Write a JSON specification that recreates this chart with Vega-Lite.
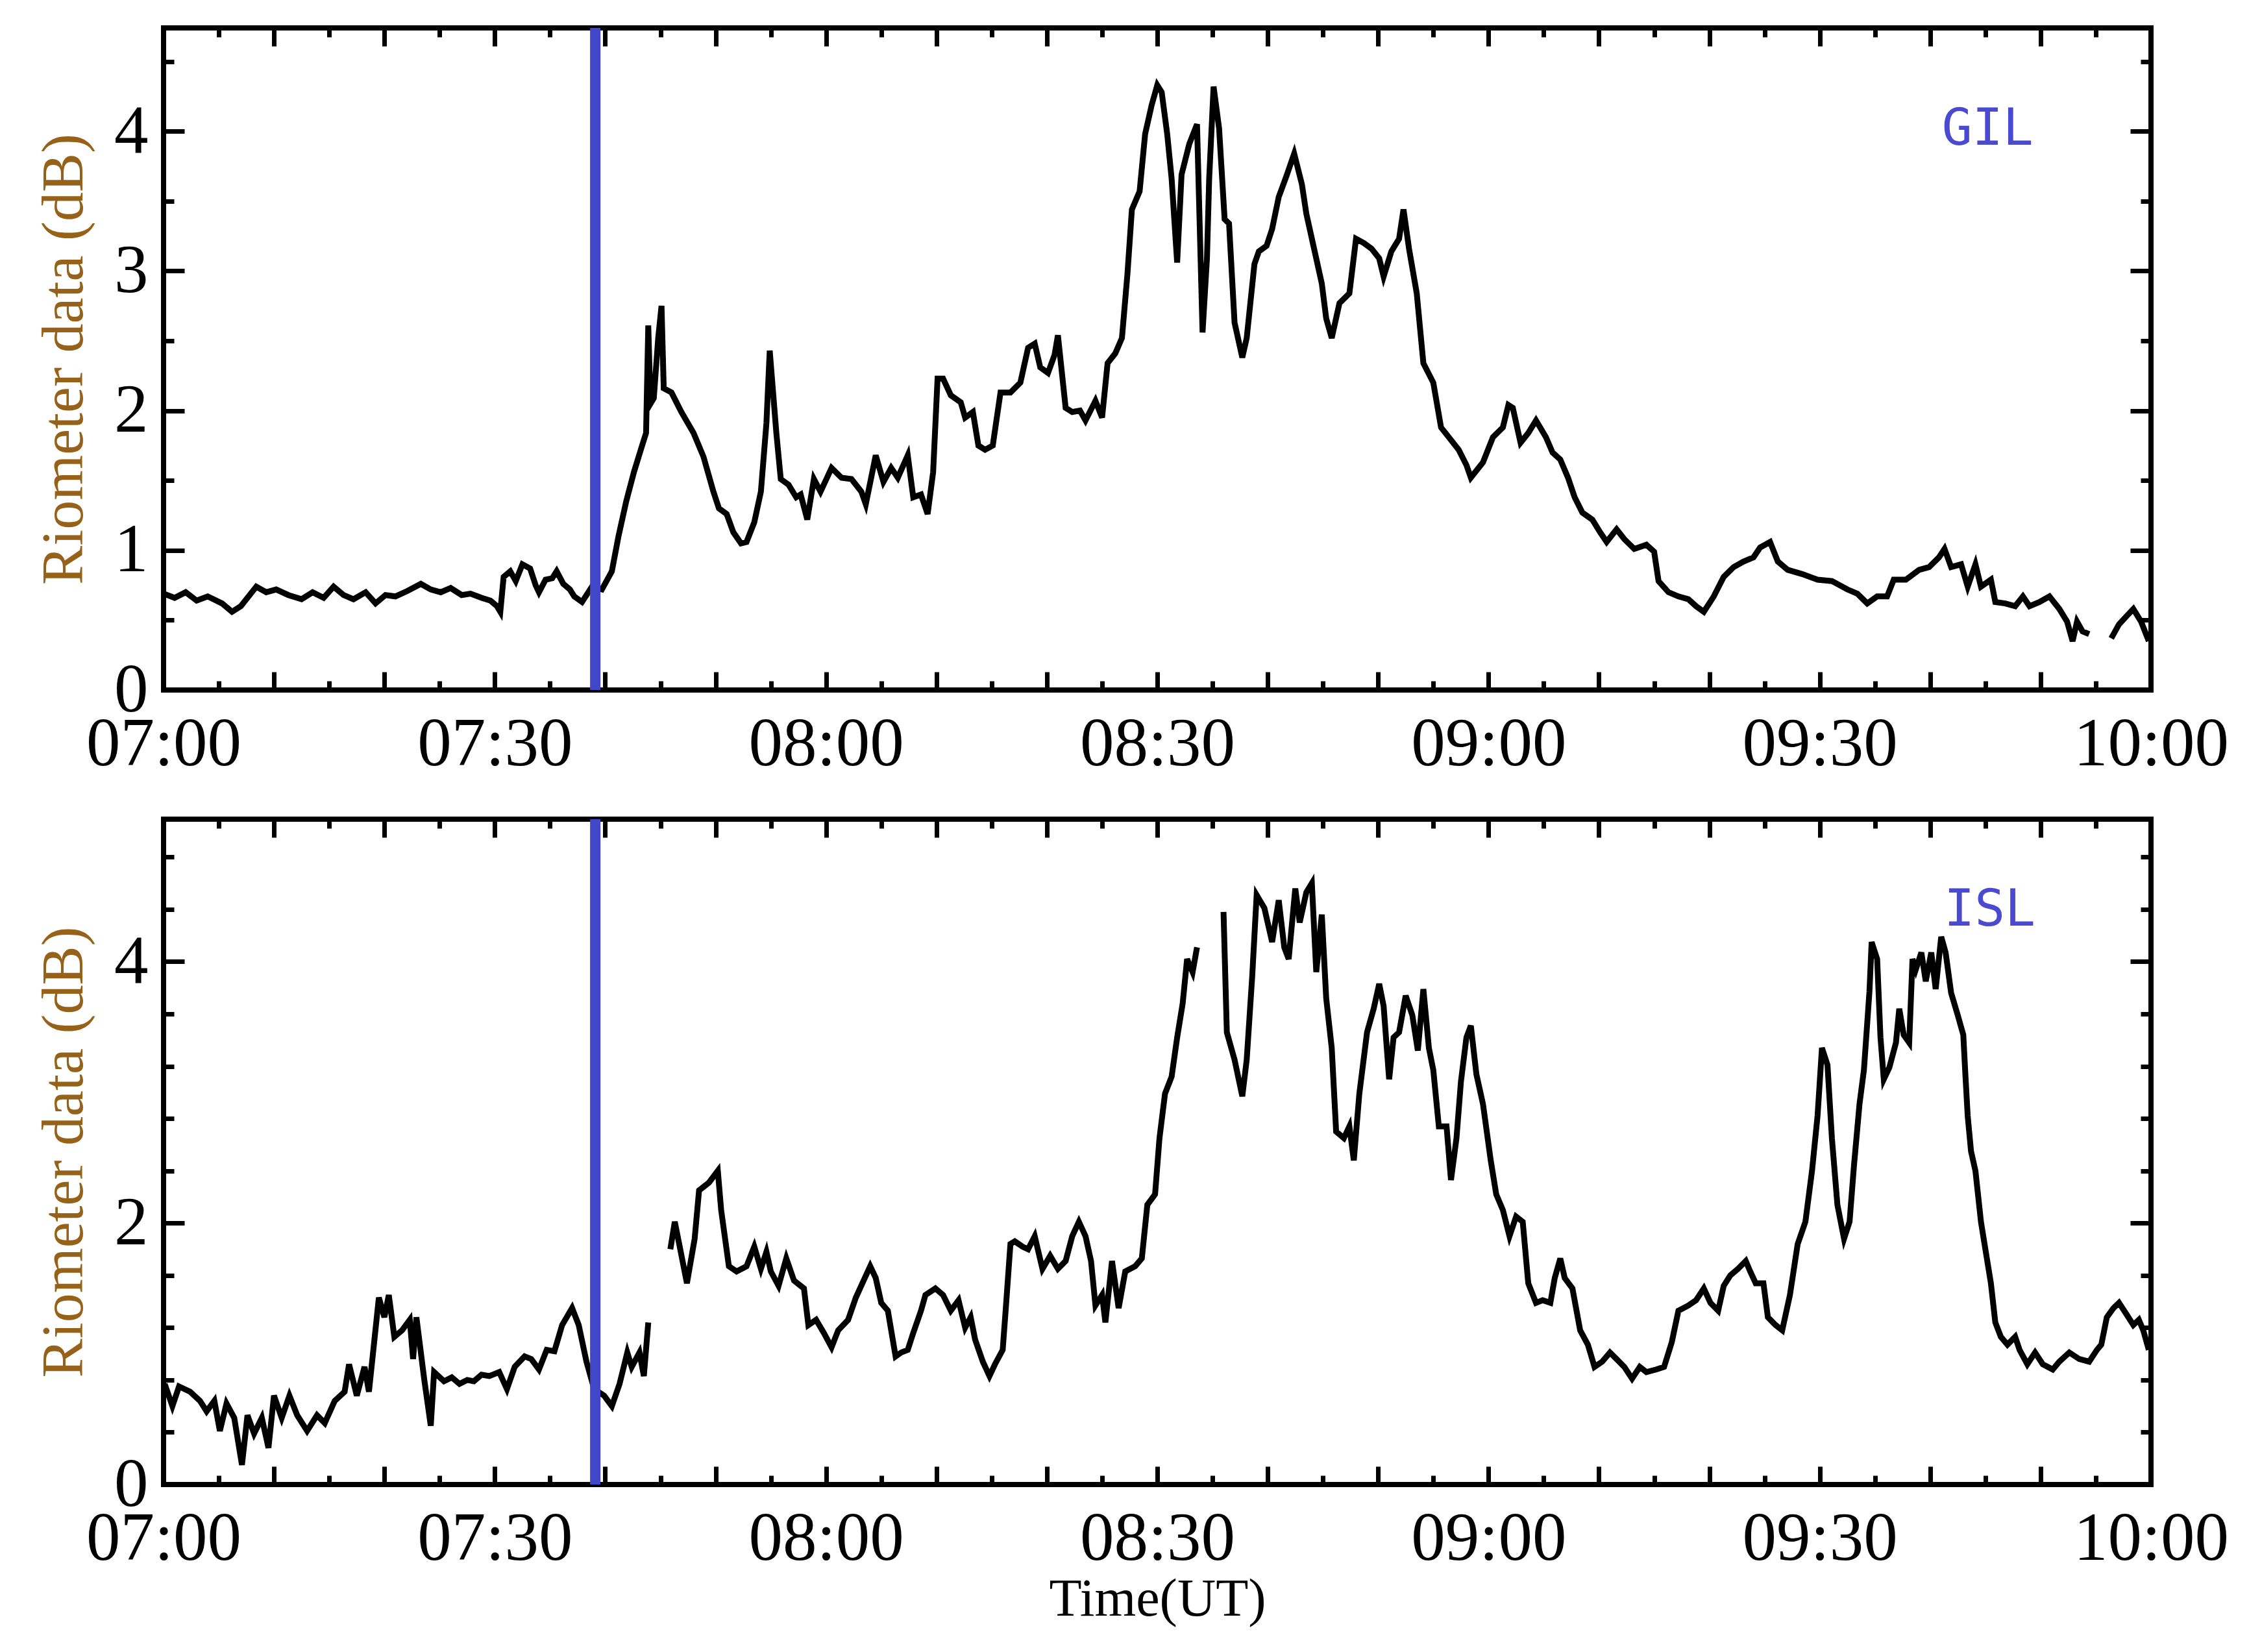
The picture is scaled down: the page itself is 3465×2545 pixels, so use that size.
{
  "$schema": "https://vega.github.io/schema/vega-lite/v6.json",
  "background": "white",
  "padding": {"left": 50, "top": 31, "right": 20, "bottom": 10},
  "spacing": 33,
  "config": {
    "view": {"stroke": "black", "strokeWidth": 8},
    "axis": {
      "domain": false, "grid": false, "tickColor": "black", "tickWidth": 7,
      "labelFont": "Liberation Serif", "labelFontSize": 105, "labelColor": "black", "labelLimit": 0,
      "labelFlush": false, "labelOverlap": false, "labelBound": false,
      "titleFont": "Liberation Serif", "titleFontWeight": "normal", "titleColor": "black"
    }
  },
  "datasets": {
    "gil": [
      {"m":0,"v":0.69,"seg":1},{"m":1,"v":0.66,"seg":1},{"m":2,"v":0.70,"seg":1},{"m":3,"v":0.64,"seg":1},{"m":4,"v":0.67,"seg":1},{"m":5.3,"v":0.62,"seg":1},{"m":6.2,"v":0.56,"seg":1},{"m":7,"v":0.60,"seg":1},{"m":8.4,"v":0.74,"seg":1},{"m":9.3,"v":0.70,"seg":1},{"m":10.2,"v":0.72,"seg":1},{"m":11.3,"v":0.68,"seg":1},{"m":12.5,"v":0.65,"seg":1},{"m":13.5,"v":0.70,"seg":1},{"m":14.5,"v":0.66,"seg":1},{"m":15.4,"v":0.74,"seg":1},{"m":16.3,"v":0.68,"seg":1},{"m":17.2,"v":0.65,"seg":1},{"m":18.3,"v":0.70,"seg":1},{"m":19.2,"v":0.62,"seg":1},{"m":20.1,"v":0.68,"seg":1},{"m":21,"v":0.67,"seg":1},{"m":22.1,"v":0.71,"seg":1},{"m":23.3,"v":0.76,"seg":1},{"m":24.2,"v":0.72,"seg":1},{"m":25.1,"v":0.70,"seg":1},{"m":26,"v":0.73,"seg":1},{"m":27,"v":0.68,"seg":1},{"m":27.8,"v":0.69,"seg":1},{"m":28.8,"v":0.66,"seg":1},{"m":29.6,"v":0.64,"seg":1},{"m":30.2,"v":0.60,"seg":1},{"m":30.5,"v":0.56,"seg":1},{"m":30.8,"v":0.81,"seg":1},{"m":31.4,"v":0.85,"seg":1},{"m":31.9,"v":0.78,"seg":1},{"m":32.5,"v":0.90,"seg":1},{"m":33.2,"v":0.87,"seg":1},{"m":33.7,"v":0.75,"seg":1},{"m":34,"v":0.70,"seg":1},{"m":34.6,"v":0.79,"seg":1},{"m":35.2,"v":0.80,"seg":1},{"m":35.6,"v":0.85,"seg":1},{"m":36.2,"v":0.76,"seg":1},{"m":36.8,"v":0.72,"seg":1},{"m":37.2,"v":0.67,"seg":1},{"m":37.9,"v":0.63,"seg":1},{"m":38.8,"v":0.74,"seg":1},{"m":39.7,"v":0.72,"seg":1},{"m":40.6,"v":0.85,"seg":1},{"m":41.2,"v":1.10,"seg":1},{"m":41.9,"v":1.35,"seg":1},{"m":42.6,"v":1.56,"seg":1},{"m":43.3,"v":1.74,"seg":1},{"m":43.7,"v":1.84,"seg":1},{"m":43.9,"v":2.61,"seg":1},{"m":44.1,"v":2.05,"seg":1},{"m":44.4,"v":2.09,"seg":1},{"m":44.8,"v":2.52,"seg":1},{"m":45.1,"v":2.75,"seg":1},{"m":45.3,"v":2.16,"seg":1},{"m":46,"v":2.13,"seg":1},{"m":46.9,"v":1.99,"seg":1},{"m":48,"v":1.84,"seg":1},{"m":48.9,"v":1.67,"seg":1},{"m":49.8,"v":1.42,"seg":1},{"m":50.3,"v":1.30,"seg":1},{"m":51,"v":1.26,"seg":1},{"m":51.6,"v":1.13,"seg":1},{"m":52.3,"v":1.05,"seg":1},{"m":52.8,"v":1.06,"seg":1},{"m":53.5,"v":1.20,"seg":1},{"m":54.1,"v":1.42,"seg":1},{"m":54.6,"v":1.91,"seg":1},{"m":54.9,"v":2.43,"seg":1},{"m":55.5,"v":1.84,"seg":1},{"m":55.9,"v":1.51,"seg":1},{"m":56.6,"v":1.47,"seg":1},{"m":57.3,"v":1.38,"seg":1},{"m":57.7,"v":1.40,"seg":1},{"m":58.3,"v":1.22,"seg":1},{"m":58.9,"v":1.51,"seg":1},{"m":59.5,"v":1.42,"seg":1},{"m":60.5,"v":1.59,"seg":1},{"m":61.4,"v":1.52,"seg":1},{"m":62.3,"v":1.51,"seg":1},{"m":63.2,"v":1.42,"seg":1},{"m":63.6,"v":1.33,"seg":1},{"m":64.5,"v":1.68,"seg":1},{"m":65.2,"v":1.49,"seg":1},{"m":65.9,"v":1.59,"seg":1},{"m":66.5,"v":1.52,"seg":1},{"m":67.4,"v":1.68,"seg":1},{"m":67.9,"v":1.38,"seg":1},{"m":68.6,"v":1.40,"seg":1},{"m":69.2,"v":1.26,"seg":1},{"m":69.7,"v":1.56,"seg":1},{"m":70.1,"v":2.23,"seg":1},{"m":70.6,"v":2.23,"seg":1},{"m":71.3,"v":2.11,"seg":1},{"m":72.2,"v":2.06,"seg":1},{"m":72.6,"v":1.95,"seg":1},{"m":73.3,"v":1.99,"seg":1},{"m":73.8,"v":1.75,"seg":1},{"m":74.4,"v":1.72,"seg":1},{"m":75.1,"v":1.75,"seg":1},{"m":75.8,"v":2.13,"seg":1},{"m":76.7,"v":2.13,"seg":1},{"m":77.6,"v":2.20,"seg":1},{"m":78.3,"v":2.45,"seg":1},{"m":78.9,"v":2.48,"seg":1},{"m":79.4,"v":2.31,"seg":1},{"m":80.1,"v":2.27,"seg":1},{"m":80.7,"v":2.40,"seg":1},{"m":81,"v":2.54,"seg":1},{"m":81.7,"v":2.02,"seg":1},{"m":82.3,"v":1.99,"seg":1},{"m":83,"v":2.00,"seg":1},{"m":83.5,"v":1.93,"seg":1},{"m":84.4,"v":2.07,"seg":1},{"m":85,"v":1.95,"seg":1},{"m":85.5,"v":2.34,"seg":1},{"m":86.2,"v":2.41,"seg":1},{"m":86.8,"v":2.52,"seg":1},{"m":87.3,"v":2.98,"seg":1},{"m":87.7,"v":3.44,"seg":1},{"m":88.4,"v":3.57,"seg":1},{"m":88.9,"v":3.98,"seg":1},{"m":89.5,"v":4.19,"seg":1},{"m":90,"v":4.33,"seg":1},{"m":90.4,"v":4.28,"seg":1},{"m":90.9,"v":3.98,"seg":1},{"m":91.3,"v":3.66,"seg":1},{"m":91.8,"v":3.06,"seg":1},{"m":92.2,"v":3.69,"seg":1},{"m":92.9,"v":3.91,"seg":1},{"m":93.6,"v":4.05,"seg":1},{"m":94.1,"v":2.56,"seg":1},{"m":94.5,"v":3.09,"seg":1},{"m":94.7,"v":3.66,"seg":1},{"m":95.1,"v":4.32,"seg":1},{"m":95.6,"v":4.02,"seg":1},{"m":96.1,"v":3.37,"seg":1},{"m":96.5,"v":3.34,"seg":1},{"m":97,"v":2.63,"seg":1},{"m":97.7,"v":2.38,"seg":1},{"m":98.1,"v":2.52,"seg":1},{"m":98.8,"v":3.05,"seg":1},{"m":99.2,"v":3.14,"seg":1},{"m":99.9,"v":3.18,"seg":1},{"m":100.4,"v":3.30,"seg":1},{"m":101,"v":3.53,"seg":1},{"m":101.7,"v":3.68,"seg":1},{"m":102.4,"v":3.84,"seg":1},{"m":103.1,"v":3.62,"seg":1},{"m":103.5,"v":3.41,"seg":1},{"m":104.2,"v":3.16,"seg":1},{"m":104.9,"v":2.91,"seg":1},{"m":105.3,"v":2.66,"seg":1},{"m":105.8,"v":2.52,"seg":1},{"m":106.5,"v":2.77,"seg":1},{"m":107.4,"v":2.84,"seg":1},{"m":108,"v":3.23,"seg":1},{"m":108.7,"v":3.20,"seg":1},{"m":109.4,"v":3.16,"seg":1},{"m":110.1,"v":3.09,"seg":1},{"m":110.5,"v":2.96,"seg":1},{"m":111.2,"v":3.14,"seg":1},{"m":111.9,"v":3.23,"seg":1},{"m":112.3,"v":3.44,"seg":1},{"m":112.8,"v":3.16,"seg":1},{"m":113.5,"v":2.84,"seg":1},{"m":114.1,"v":2.34,"seg":1},{"m":115,"v":2.20,"seg":1},{"m":115.7,"v":1.88,"seg":1},{"m":116.4,"v":1.81,"seg":1},{"m":117.3,"v":1.72,"seg":1},{"m":118,"v":1.61,"seg":1},{"m":118.4,"v":1.52,"seg":1},{"m":119.5,"v":1.63,"seg":1},{"m":120.4,"v":1.81,"seg":1},{"m":121.3,"v":1.88,"seg":1},{"m":121.8,"v":2.04,"seg":1},{"m":122.2,"v":2.02,"seg":1},{"m":122.9,"v":1.77,"seg":1},{"m":123.6,"v":1.84,"seg":1},{"m":124.3,"v":1.93,"seg":1},{"m":125.2,"v":1.81,"seg":1},{"m":125.8,"v":1.70,"seg":1},{"m":126.5,"v":1.65,"seg":1},{"m":127.2,"v":1.52,"seg":1},{"m":127.8,"v":1.38,"seg":1},{"m":128.5,"v":1.27,"seg":1},{"m":129.4,"v":1.22,"seg":1},{"m":130.1,"v":1.13,"seg":1},{"m":130.7,"v":1.06,"seg":1},{"m":131.6,"v":1.15,"seg":1},{"m":132.3,"v":1.08,"seg":1},{"m":133.2,"v":1.01,"seg":1},{"m":134.3,"v":1.04,"seg":1},{"m":135,"v":0.99,"seg":1},{"m":135.4,"v":0.78,"seg":1},{"m":136.3,"v":0.70,"seg":1},{"m":137.2,"v":0.67,"seg":1},{"m":138.1,"v":0.65,"seg":1},{"m":138.8,"v":0.60,"seg":1},{"m":139.5,"v":0.56,"seg":1},{"m":140.4,"v":0.67,"seg":1},{"m":141.3,"v":0.81,"seg":1},{"m":142.2,"v":0.88,"seg":1},{"m":143.1,"v":0.92,"seg":1},{"m":144,"v":0.95,"seg":1},{"m":144.6,"v":1.02,"seg":1},{"m":145.5,"v":1.06,"seg":1},{"m":146.2,"v":0.92,"seg":1},{"m":147.1,"v":0.86,"seg":1},{"m":148.4,"v":0.83,"seg":1},{"m":149.8,"v":0.79,"seg":1},{"m":151.1,"v":0.78,"seg":1},{"m":152.5,"v":0.72,"seg":1},{"m":153.4,"v":0.69,"seg":1},{"m":154.3,"v":0.62,"seg":1},{"m":155.2,"v":0.67,"seg":1},{"m":156.1,"v":0.67,"seg":1},{"m":156.7,"v":0.79,"seg":1},{"m":157.8,"v":0.79,"seg":1},{"m":159,"v":0.86,"seg":1},{"m":159.9,"v":0.88,"seg":1},{"m":160.8,"v":0.95,"seg":1},{"m":161.3,"v":1.01,"seg":1},{"m":161.9,"v":0.88,"seg":1},{"m":162.8,"v":0.90,"seg":1},{"m":163.4,"v":0.74,"seg":1},{"m":164.1,"v":0.90,"seg":1},{"m":164.6,"v":0.74,"seg":1},{"m":165.5,"v":0.79,"seg":1},{"m":165.9,"v":0.63,"seg":1},{"m":166.8,"v":0.62,"seg":1},{"m":167.7,"v":0.60,"seg":1},{"m":168.4,"v":0.67,"seg":1},{"m":169,"v":0.60,"seg":1},{"m":169.9,"v":0.63,"seg":1},{"m":170.8,"v":0.67,"seg":1},{"m":171.7,"v":0.58,"seg":1},{"m":172.4,"v":0.49,"seg":1},{"m":172.9,"v":0.35,"seg":1},{"m":173.3,"v":0.49,"seg":1},{"m":173.8,"v":0.42,"seg":1},{"m":174.4,"v":0.40,"seg":1},
      {"m":176.4,"v":0.37,"seg":2},{"m":177.1,"v":0.47,"seg":2},{"m":177.8,"v":0.53,"seg":2},{"m":178.4,"v":0.58,"seg":2},{"m":179.1,"v":0.49,"seg":2},{"m":179.8,"v":0.35,"seg":2}
    ],
    "isl": [
      {"m":0.1,"v":0.77,"seg":1},{"m":0.8,"v":0.60,"seg":1},{"m":1.4,"v":0.75,"seg":1},{"m":2.4,"v":0.71,"seg":1},{"m":3.3,"v":0.64,"seg":1},{"m":3.9,"v":0.56,"seg":1},{"m":4.6,"v":0.64,"seg":1},{"m":5.1,"v":0.41,"seg":1},{"m":5.7,"v":0.62,"seg":1},{"m":6.4,"v":0.51,"seg":1},{"m":7.1,"v":0.15,"seg":1},{"m":7.6,"v":0.53,"seg":1},{"m":8.2,"v":0.39,"seg":1},{"m":8.9,"v":0.51,"seg":1},{"m":9.5,"v":0.28,"seg":1},{"m":10,"v":0.68,"seg":1},{"m":10.7,"v":0.51,"seg":1},{"m":11.4,"v":0.68,"seg":1},{"m":12.1,"v":0.53,"seg":1},{"m":13,"v":0.41,"seg":1},{"m":13.9,"v":0.53,"seg":1},{"m":14.6,"v":0.47,"seg":1},{"m":15.5,"v":0.64,"seg":1},{"m":16.4,"v":0.71,"seg":1},{"m":16.8,"v":0.92,"seg":1},{"m":17.5,"v":0.68,"seg":1},{"m":18.2,"v":0.90,"seg":1},{"m":18.6,"v":0.71,"seg":1},{"m":19.1,"v":1.11,"seg":1},{"m":19.5,"v":1.43,"seg":1},{"m":20,"v":1.28,"seg":1},{"m":20.4,"v":1.45,"seg":1},{"m":20.9,"v":1.13,"seg":1},{"m":21.6,"v":1.18,"seg":1},{"m":22.3,"v":1.26,"seg":1},{"m":22.6,"v":0.96,"seg":1},{"m":22.9,"v":1.28,"seg":1},{"m":23.6,"v":0.81,"seg":1},{"m":24.2,"v":0.45,"seg":1},{"m":24.5,"v":0.86,"seg":1},{"m":25.4,"v":0.79,"seg":1},{"m":26.1,"v":0.82,"seg":1},{"m":26.8,"v":0.77,"seg":1},{"m":27.5,"v":0.80,"seg":1},{"m":28.1,"v":0.79,"seg":1},{"m":28.8,"v":0.84,"seg":1},{"m":29.5,"v":0.83,"seg":1},{"m":30.4,"v":0.86,"seg":1},{"m":31.1,"v":0.73,"seg":1},{"m":31.8,"v":0.90,"seg":1},{"m":32.7,"v":0.98,"seg":1},{"m":33.3,"v":0.96,"seg":1},{"m":34,"v":0.88,"seg":1},{"m":34.7,"v":1.03,"seg":1},{"m":35.4,"v":1.02,"seg":1},{"m":36.1,"v":1.22,"seg":1},{"m":37,"v":1.35,"seg":1},{"m":37.6,"v":1.22,"seg":1},{"m":38.3,"v":0.94,"seg":1},{"m":39,"v":0.73,"seg":1},{"m":39.9,"v":0.68,"seg":1},{"m":40.6,"v":0.60,"seg":1},{"m":41.3,"v":0.77,"seg":1},{"m":42,"v":1.01,"seg":1},{"m":42.4,"v":0.90,"seg":1},{"m":43.1,"v":1.01,"seg":1},{"m":43.5,"v":0.83,"seg":1},{"m":43.9,"v":1.24,"seg":1},
      {"m":45.9,"v":1.80,"seg":2},{"m":46.3,"v":2.01,"seg":2},{"m":46.7,"v":1.84,"seg":2},{"m":47.4,"v":1.54,"seg":2},{"m":48.1,"v":1.88,"seg":2},{"m":48.5,"v":2.25,"seg":2},{"m":49.4,"v":2.31,"seg":2},{"m":50.2,"v":2.40,"seg":2},{"m":50.5,"v":2.10,"seg":2},{"m":51.2,"v":1.67,"seg":2},{"m":51.9,"v":1.63,"seg":2},{"m":52.8,"v":1.67,"seg":2},{"m":53.5,"v":1.82,"seg":2},{"m":54.1,"v":1.65,"seg":2},{"m":54.6,"v":1.78,"seg":2},{"m":55,"v":1.63,"seg":2},{"m":55.7,"v":1.52,"seg":2},{"m":56.4,"v":1.73,"seg":2},{"m":57.1,"v":1.56,"seg":2},{"m":58,"v":1.50,"seg":2},{"m":58.4,"v":1.22,"seg":2},{"m":59.1,"v":1.26,"seg":2},{"m":59.8,"v":1.16,"seg":2},{"m":60.5,"v":1.05,"seg":2},{"m":61.1,"v":1.18,"seg":2},{"m":62,"v":1.26,"seg":2},{"m":62.7,"v":1.43,"seg":2},{"m":63.4,"v":1.56,"seg":2},{"m":64,"v":1.67,"seg":2},{"m":64.5,"v":1.58,"seg":2},{"m":65,"v":1.39,"seg":2},{"m":65.6,"v":1.33,"seg":2},{"m":66.3,"v":0.98,"seg":2},{"m":66.8,"v":1.01,"seg":2},{"m":67.4,"v":1.03,"seg":2},{"m":67.9,"v":1.16,"seg":2},{"m":68.6,"v":1.33,"seg":2},{"m":69,"v":1.45,"seg":2},{"m":69.9,"v":1.50,"seg":2},{"m":70.6,"v":1.45,"seg":2},{"m":71.3,"v":1.33,"seg":2},{"m":72,"v":1.41,"seg":2},{"m":72.6,"v":1.20,"seg":2},{"m":73.1,"v":1.28,"seg":2},{"m":73.5,"v":1.11,"seg":2},{"m":74.2,"v":0.94,"seg":2},{"m":74.8,"v":0.83,"seg":2},{"m":75.3,"v":0.92,"seg":2},{"m":76,"v":1.03,"seg":2},{"m":76.3,"v":1.37,"seg":2},{"m":76.7,"v":1.84,"seg":2},{"m":77.1,"v":1.86,"seg":2},{"m":77.8,"v":1.82,"seg":2},{"m":78.3,"v":1.80,"seg":2},{"m":78.9,"v":1.90,"seg":2},{"m":79.6,"v":1.65,"seg":2},{"m":80.3,"v":1.75,"seg":2},{"m":81,"v":1.65,"seg":2},{"m":81.7,"v":1.71,"seg":2},{"m":82.3,"v":1.90,"seg":2},{"m":82.9,"v":2.01,"seg":2},{"m":83.5,"v":1.90,"seg":2},{"m":84,"v":1.71,"seg":2},{"m":84.4,"v":1.37,"seg":2},{"m":85,"v":1.45,"seg":2},{"m":85.3,"v":1.24,"seg":2},{"m":85.9,"v":1.71,"seg":2},{"m":86.5,"v":1.35,"seg":2},{"m":87.1,"v":1.63,"seg":2},{"m":88,"v":1.67,"seg":2},{"m":88.6,"v":1.73,"seg":2},{"m":89.1,"v":2.14,"seg":2},{"m":89.8,"v":2.22,"seg":2},{"m":90.2,"v":2.65,"seg":2},{"m":90.7,"v":2.99,"seg":2},{"m":91.3,"v":3.12,"seg":2},{"m":91.8,"v":3.42,"seg":2},{"m":92.3,"v":3.68,"seg":2},{"m":92.7,"v":4.02,"seg":2},{"m":93.2,"v":3.92,"seg":2},{"m":93.6,"v":4.11,"seg":2},
      {"m":96,"v":4.38,"seg":3},{"m":96.3,"v":3.46,"seg":3},{"m":97,"v":3.25,"seg":3},{"m":97.7,"v":2.97,"seg":3},{"m":98.1,"v":3.25,"seg":3},{"m":98.6,"v":3.89,"seg":3},{"m":99,"v":4.51,"seg":3},{"m":99.7,"v":4.41,"seg":3},{"m":100.4,"v":4.15,"seg":3},{"m":101,"v":4.47,"seg":3},{"m":101.5,"v":4.11,"seg":3},{"m":101.9,"v":4.02,"seg":3},{"m":102.5,"v":4.56,"seg":3},{"m":102.9,"v":4.30,"seg":3},{"m":103.5,"v":4.53,"seg":3},{"m":104,"v":4.60,"seg":3},{"m":104.4,"v":3.92,"seg":3},{"m":104.9,"v":4.36,"seg":3},{"m":105.3,"v":3.72,"seg":3},{"m":105.8,"v":3.34,"seg":3},{"m":106.2,"v":2.70,"seg":3},{"m":106.9,"v":2.65,"seg":3},{"m":107.4,"v":2.74,"seg":3},{"m":107.8,"v":2.48,"seg":3},{"m":108.3,"v":2.99,"seg":3},{"m":109,"v":3.46,"seg":3},{"m":109.6,"v":3.64,"seg":3},{"m":110.1,"v":3.83,"seg":3},{"m":110.5,"v":3.66,"seg":3},{"m":111,"v":3.10,"seg":3},{"m":111.4,"v":3.42,"seg":3},{"m":111.9,"v":3.46,"seg":3},{"m":112.5,"v":3.74,"seg":3},{"m":113.1,"v":3.59,"seg":3},{"m":113.6,"v":3.32,"seg":3},{"m":114.1,"v":3.79,"seg":3},{"m":114.6,"v":3.34,"seg":3},{"m":115,"v":3.17,"seg":3},{"m":115.5,"v":2.74,"seg":3},{"m":116.2,"v":2.74,"seg":3},{"m":116.6,"v":2.33,"seg":3},{"m":117.1,"v":2.65,"seg":3},{"m":117.5,"v":3.08,"seg":3},{"m":118,"v":3.42,"seg":3},{"m":118.4,"v":3.51,"seg":3},{"m":118.9,"v":3.14,"seg":3},{"m":119.5,"v":2.91,"seg":3},{"m":120.2,"v":2.48,"seg":3},{"m":120.7,"v":2.22,"seg":3},{"m":121.3,"v":2.10,"seg":3},{"m":121.9,"v":1.90,"seg":3},{"m":122.5,"v":2.05,"seg":3},{"m":123.1,"v":2.01,"seg":3},{"m":123.6,"v":1.54,"seg":3},{"m":124.3,"v":1.39,"seg":3},{"m":124.9,"v":1.41,"seg":3},{"m":125.6,"v":1.39,"seg":3},{"m":126,"v":1.58,"seg":3},{"m":126.5,"v":1.73,"seg":3},{"m":126.9,"v":1.58,"seg":3},{"m":127.6,"v":1.50,"seg":3},{"m":128.3,"v":1.18,"seg":3},{"m":129,"v":1.07,"seg":3},{"m":129.6,"v":0.90,"seg":3},{"m":130.3,"v":0.94,"seg":3},{"m":131,"v":1.01,"seg":3},{"m":131.6,"v":0.96,"seg":3},{"m":132.3,"v":0.90,"seg":3},{"m":133,"v":0.81,"seg":3},{"m":133.7,"v":0.90,"seg":3},{"m":134.3,"v":0.86,"seg":3},{"m":135.2,"v":0.88,"seg":3},{"m":135.9,"v":0.90,"seg":3},{"m":136.6,"v":1.09,"seg":3},{"m":137.2,"v":1.33,"seg":3},{"m":138.1,"v":1.37,"seg":3},{"m":138.8,"v":1.41,"seg":3},{"m":139.5,"v":1.50,"seg":3},{"m":140.1,"v":1.39,"seg":3},{"m":140.8,"v":1.33,"seg":3},{"m":141.3,"v":1.52,"seg":3},{"m":141.9,"v":1.60,"seg":3},{"m":142.6,"v":1.65,"seg":3},{"m":143.3,"v":1.71,"seg":3},{"m":143.7,"v":1.63,"seg":3},{"m":144.2,"v":1.54,"seg":3},{"m":144.9,"v":1.54,"seg":3},{"m":145.3,"v":1.28,"seg":3},{"m":146,"v":1.22,"seg":3},{"m":146.6,"v":1.18,"seg":3},{"m":147.3,"v":1.45,"seg":3},{"m":148,"v":1.84,"seg":3},{"m":148.7,"v":2.01,"seg":3},{"m":149.3,"v":2.40,"seg":3},{"m":149.8,"v":2.82,"seg":3},{"m":150.2,"v":3.34,"seg":3},{"m":150.7,"v":3.21,"seg":3},{"m":151.1,"v":2.65,"seg":3},{"m":151.6,"v":2.14,"seg":3},{"m":152.2,"v":1.88,"seg":3},{"m":152.7,"v":2.01,"seg":3},{"m":153.1,"v":2.44,"seg":3},{"m":153.6,"v":2.91,"seg":3},{"m":154,"v":3.17,"seg":3},{"m":154.5,"v":3.77,"seg":3},{"m":154.7,"v":4.15,"seg":3},{"m":155.2,"v":4.02,"seg":3},{"m":155.5,"v":3.42,"seg":3},{"m":155.8,"v":3.10,"seg":3},{"m":156.3,"v":3.19,"seg":3},{"m":156.9,"v":3.38,"seg":3},{"m":157.2,"v":3.64,"seg":3},{"m":157.6,"v":3.44,"seg":3},{"m":158.1,"v":3.38,"seg":3},{"m":158.4,"v":4.02,"seg":3},{"m":158.7,"v":3.94,"seg":3},{"m":159.2,"v":4.07,"seg":3},{"m":159.6,"v":3.85,"seg":3},{"m":160.1,"v":4.07,"seg":3},{"m":160.5,"v":3.79,"seg":3},{"m":161,"v":4.19,"seg":3},{"m":161.4,"v":4.07,"seg":3},{"m":161.9,"v":3.76,"seg":3},{"m":162.5,"v":3.59,"seg":3},{"m":163,"v":3.44,"seg":3},{"m":163.2,"v":3.12,"seg":3},{"m":163.4,"v":2.82,"seg":3},{"m":163.7,"v":2.55,"seg":3},{"m":164.1,"v":2.40,"seg":3},{"m":164.6,"v":2.01,"seg":3},{"m":165,"v":1.80,"seg":3},{"m":165.5,"v":1.54,"seg":3},{"m":165.9,"v":1.24,"seg":3},{"m":166.4,"v":1.13,"seg":3},{"m":167,"v":1.07,"seg":3},{"m":167.7,"v":1.13,"seg":3},{"m":168.1,"v":1.03,"seg":3},{"m":168.8,"v":0.92,"seg":3},{"m":169.5,"v":1.01,"seg":3},{"m":170.2,"v":0.92,"seg":3},{"m":171.1,"v":0.88,"seg":3},{"m":171.7,"v":0.94,"seg":3},{"m":172.6,"v":1.01,"seg":3},{"m":173.5,"v":0.96,"seg":3},{"m":174.4,"v":0.94,"seg":3},{"m":175.1,"v":1.03,"seg":3},{"m":175.5,"v":1.07,"seg":3},{"m":176,"v":1.28,"seg":3},{"m":176.6,"v":1.35,"seg":3},{"m":177.1,"v":1.39,"seg":3},{"m":177.8,"v":1.30,"seg":3},{"m":178.4,"v":1.22,"seg":3},{"m":178.9,"v":1.26,"seg":3},{"m":179.3,"v":1.18,"seg":3},{"m":179.8,"v":1.03,"seg":3}
    ]
  },
  "vconcat": [
    {
      "width": 3062, "height": 1020,
      "layer": [
        {
          "data": {"name": "gil"},
          "mark": {"type": "line", "color": "black", "strokeWidth": 9, "strokeJoin": "miter"},
          "encoding": {
            "x": {"field": "m", "type": "quantitative", "scale": {"domain": [0, 180], "nice": false, "zero": false},
                  "axis": {"orient": "bottom", "values": [0,5,10,15,20,25,30,35,40,45,50,55,60,65,70,75,80,85,90,95,100,105,110,115,120,125,130,135,140,145,150,155,160,165,170,175,180],
                           "labelExpr": "datum.value % 30 === 0 ? timeFormat(datetime(2000,0,1,7,datum.value), '%H:%M') : ''",
                           "tickSize": {"condition": {"test": "datum.value % 10 === 0", "value": -28}, "value": -14},
                           "labelPadding": 60, "title": null}},
            "y": {"field": "v", "type": "quantitative", "scale": {"domain": [0, 4.74], "nice": false},
                  "axis": {"orient": "left", "values": [0,0.5,1,1.5,2,2.5,3,3.5,4,4.5],
                           "labelExpr": "datum.value % 1 === 0 ? format(datum.value, 'd') : ''",
                           "tickSize": {"condition": {"test": "datum.value % 1 === 0", "value": -32}, "value": -16},
                           "labelPadding": 56, "labelBaseline": "middle",
                           "title": "Riometer data (dB)", "titleFontSize": 90, "titleColor": "#96621a", "titlePadding": 30}},
            "detail": {"field": "seg", "type": "nominal"}
          }
        },
        {
          "data": {"values": [{"m": 39.1}]},
          "mark": {"type": "rule", "color": "#4047c8", "strokeWidth": 16},
          "encoding": {"x": {"field": "m", "type": "quantitative", "axis": null}}
        },
        {
          "data": {"values": [{"m": 165.2, "v": 4.01, "label": "GIL"}]},
          "mark": {"type": "text", "font": "DejaVu Sans Mono", "fontSize": 78, "color": "#4a4ad0", "align": "center", "baseline": "middle"},
          "encoding": {
            "x": {"field": "m", "type": "quantitative",
                  "axis": {"orient": "top", "values": [0,5,10,15,20,25,30,35,40,45,50,55,60,65,70,75,80,85,90,95,100,105,110,115,120,125,130,135,140,145,150,155,160,165,170,175,180],
                           "labels": false, "title": null,
                           "tickSize": {"condition": {"test": "datum.value % 10 === 0", "value": -28}, "value": -14}}},
            "y": {"field": "v", "type": "quantitative",
                  "axis": {"orient": "right", "values": [0,0.5,1,1.5,2,2.5,3,3.5,4,4.5],
                           "labels": false, "title": null,
                           "tickSize": {"condition": {"test": "datum.value % 1 === 0", "value": -32}, "value": -16}}},
            "text": {"field": "label"}
          }
        }
      ],
      "resolve": {"axis": {"x": "independent", "y": "independent"}}
    },
    {
      "width": 3062, "height": 1025,
      "layer": [
        {
          "data": {"name": "isl"},
          "mark": {"type": "line", "color": "black", "strokeWidth": 9, "strokeJoin": "miter"},
          "encoding": {
            "x": {"field": "m", "type": "quantitative", "scale": {"domain": [0, 180], "nice": false, "zero": false},
                  "axis": {"orient": "bottom", "values": [0,5,10,15,20,25,30,35,40,45,50,55,60,65,70,75,80,85,90,95,100,105,110,115,120,125,130,135,140,145,150,155,160,165,170,175,180],
                           "labelExpr": "datum.value % 30 === 0 ? timeFormat(datetime(2000,0,1,7,datum.value), '%H:%M') : ''",
                           "tickSize": {"condition": {"test": "datum.value % 10 === 0", "value": -28}, "value": -14},
                           "labelPadding": 60, "title": "Time(UT)", "titleFontSize": 82, "titlePadding": -14}},
            "y": {"field": "v", "type": "quantitative", "scale": {"domain": [0, 5.09], "nice": false},
                  "axis": {"orient": "left", "values": [0,0.4,0.8,1.2,1.6,2,2.4,2.8,3.2,3.6,4,4.4,4.8],
                           "labelExpr": "datum.value % 2 === 0 ? format(datum.value, 'd') : ''",
                           "tickSize": {"condition": {"test": "datum.value % 2 === 0", "value": -32}, "value": -16},
                           "labelPadding": 56, "labelBaseline": "middle",
                           "title": "Riometer data (dB)", "titleFontSize": 90, "titleColor": "#96621a", "titlePadding": 30}},
            "detail": {"field": "seg", "type": "nominal"}
          }
        },
        {
          "data": {"values": [{"m": 39.1}]},
          "mark": {"type": "rule", "color": "#4047c8", "strokeWidth": 16},
          "encoding": {"x": {"field": "m", "type": "quantitative", "axis": null}}
        },
        {
          "data": {"values": [{"m": 165.4, "v": 4.39, "label": "ISL"}]},
          "mark": {"type": "text", "font": "DejaVu Sans Mono", "fontSize": 78, "color": "#4a4ad0", "align": "center", "baseline": "middle"},
          "encoding": {
            "x": {"field": "m", "type": "quantitative",
                  "axis": {"orient": "top", "values": [0,5,10,15,20,25,30,35,40,45,50,55,60,65,70,75,80,85,90,95,100,105,110,115,120,125,130,135,140,145,150,155,160,165,170,175,180],
                           "labels": false, "title": null,
                           "tickSize": {"condition": {"test": "datum.value % 10 === 0", "value": -28}, "value": -14}}},
            "y": {"field": "v", "type": "quantitative",
                  "axis": {"orient": "right", "values": [0,0.4,0.8,1.2,1.6,2,2.4,2.8,3.2,3.6,4,4.4,4.8],
                           "labels": false, "title": null,
                           "tickSize": {"condition": {"test": "datum.value % 2 === 0", "value": -32}, "value": -16}}},
            "text": {"field": "label"}
          }
        }
      ],
      "resolve": {"axis": {"x": "independent", "y": "independent"}}
    }
  ]
}
